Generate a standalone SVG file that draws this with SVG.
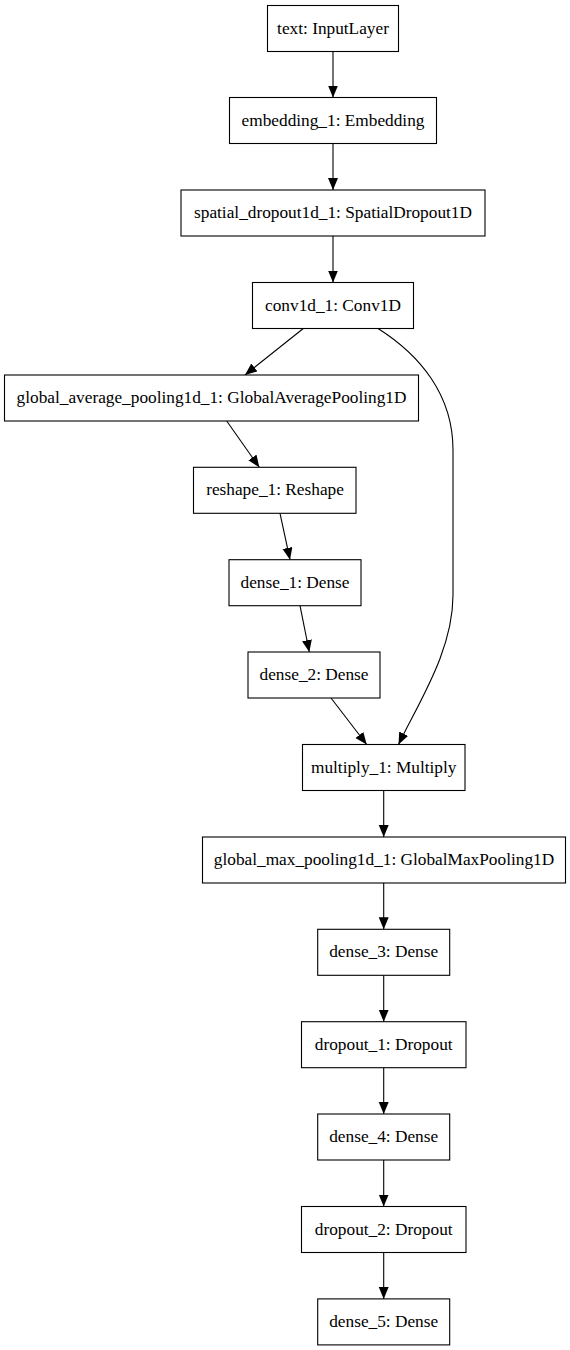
<svg xmlns="http://www.w3.org/2000/svg" width="570" height="1350" viewBox="0 0 570 1350">
<style>
.box{fill:#ffffff;stroke:#000000;stroke-width:1.1}
.lbl{font-family:"Liberation Serif","Times New Roman",serif;font-size:17.3px;fill:#000000;text-anchor:middle}
.edge{fill:none;stroke:#000000;stroke-width:1.1;marker-end:url(#arr)}
</style>
<defs>
<marker id="arr" markerUnits="userSpaceOnUse" markerWidth="13" markerHeight="11" refX="12" refY="5" orient="auto">
<path d="M0,0 L12,5 L0,10 z" fill="#000000"/>
</marker>
</defs>
<rect width="570" height="1350" fill="#ffffff"/>
<g id="connectors">
<path class="edge" d="M333,51.5 L333,97.5"/>
<path class="edge" d="M333,143.5 L333,190"/>
<path class="edge" d="M333,236 L333,282.5"/>
<path class="edge" d="M303.3,328.5 L245,375"/>
<path class="edge" d="M378,328.5 C420,355 453,395 453,450 L453,595 C453,650 420,700 398.5,744.5"/>
<path class="edge" d="M226.7,421 L259.3,467.3"/>
<path class="edge" d="M280,513.3 L290,559.7"/>
<path class="edge" d="M300,605.7 L309.3,652"/>
<path class="edge" d="M331,698 L366.7,744.5"/>
<path class="edge" d="M383.7,790.5 L383.7,837"/>
<path class="edge" d="M383.7,883 L383.7,929.3"/>
<path class="edge" d="M383.7,975.3 L383.7,1021.7"/>
<path class="edge" d="M383.7,1067.7 L383.7,1114"/>
<path class="edge" d="M383.7,1160 L383.7,1206.5"/>
<path class="edge" d="M383.7,1252.5 L383.7,1298.9"/>
</g>
<g id="text_InputLayer"><rect class="box" x="267.5" y="5.5" width="131" height="46"/><text class="lbl" x="333" y="33.5">text: InputLayer</text></g>
<g id="embedding_1"><rect class="box" x="229.5" y="97.5" width="207" height="46"/><text class="lbl" x="333" y="125.5">embedding_1: Embedding</text></g>
<g id="spatial_dropout1d_1"><rect class="box" x="181" y="190" width="304" height="46"/><text class="lbl" x="333" y="218">spatial_dropout1d_1: SpatialDropout1D</text></g>
<g id="conv1d_1"><rect class="box" x="252.5" y="282.5" width="161" height="46"/><text class="lbl" x="333" y="310.5">conv1d_1: Conv1D</text></g>
<g id="global_average_pooling1d_1"><rect class="box" x="4.5" y="375" width="414" height="46"/><text class="lbl" x="211.5" y="403">global_average_pooling1d_1: GlobalAveragePooling1D</text></g>
<g id="reshape_1"><rect class="box" x="193.5" y="467.3" width="162.5" height="46"/><text class="lbl" x="275" y="495.3">reshape_1: Reshape</text></g>
<g id="dense_1"><rect class="box" x="229" y="559.7" width="132" height="46"/><text class="lbl" x="295" y="587.7">dense_1: Dense</text></g>
<g id="dense_2"><rect class="box" x="248" y="652" width="132" height="46"/><text class="lbl" x="314" y="680">dense_2: Dense</text></g>
<g id="multiply_1"><rect class="box" x="302.5" y="744.5" width="162.5" height="46"/><text class="lbl" x="383.7" y="772.5">multiply_1: Multiply</text></g>
<g id="global_max_pooling1d_1"><rect class="box" x="202.5" y="837" width="363" height="46"/><text class="lbl" x="384" y="865">global_max_pooling1d_1: GlobalMaxPooling1D</text></g>
<g id="dense_3"><rect class="box" x="317.7" y="929.3" width="132" height="46"/><text class="lbl" x="383.7" y="957.3">dense_3: Dense</text></g>
<g id="dropout_1"><rect class="box" x="301.5" y="1021.7" width="164.5" height="46"/><text class="lbl" x="383.7" y="1049.7">dropout_1: Dropout</text></g>
<g id="dense_4"><rect class="box" x="317.7" y="1114" width="132" height="46"/><text class="lbl" x="383.7" y="1142">dense_4: Dense</text></g>
<g id="dropout_2"><rect class="box" x="301.5" y="1206.5" width="164.5" height="46"/><text class="lbl" x="383.7" y="1234.5">dropout_2: Dropout</text></g>
<g id="dense_5"><rect class="box" x="317.7" y="1298.9" width="132" height="46"/><text class="lbl" x="383.7" y="1326.9">dense_5: Dense</text></g>
</svg>
